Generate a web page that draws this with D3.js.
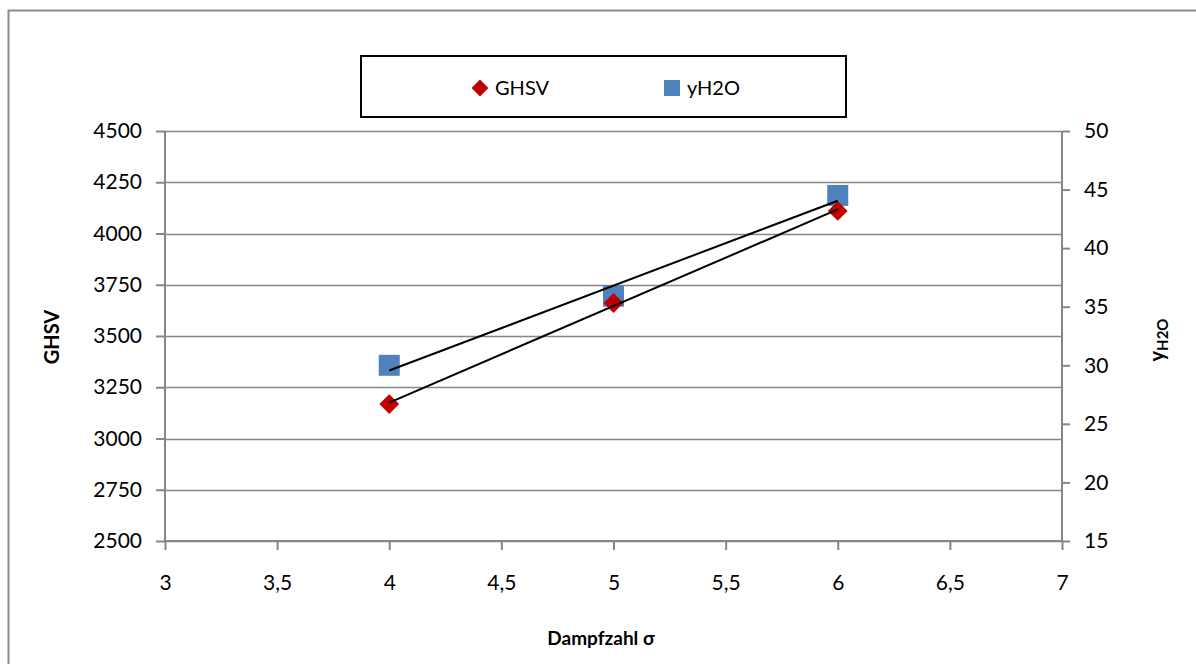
<!DOCTYPE html>
<html><head><meta charset="utf-8">
<script src="https://cdn.jsdelivr.net/npm/d3@7/dist/d3.min.js"></script>
<style>body{margin:0;background:#fff;} svg{display:block;font-family:Lato,"Open Sans",sans-serif;}</style>
</head><body>
<svg id="c" width="1196" height="664"></svg>
<script>
const xValues = [4, 5, 6];
const ghsvValues = [3168, 3661, 4110];
const yh2oValues = [30.0, 35.9, 44.5];
const xTicks = [3, 3.5, 4, 4.5, 5, 5.5, 6, 6.5, 7];
const leftTicks = [2500, 2750, 3000, 3250, 3500, 3750, 4000, 4250, 4500];
const rightTicks = [15, 20, 25, 30, 35, 40, 45, 50];
const seriesNames = ["GHSV", "yH2O"];

const svg = d3.select("#c");
const L = 165, R = 1062, T = 131, B = 541;
const x = d3.scaleLinear().domain([3, 7]).range([L, R]);
const yL = d3.scaleLinear().domain([2500, 4500]).range([B, T]);
const yR = d3.scaleLinear().domain([15, 50]).range([B, T]);
const gridCol = "#868686";

// outer border
svg.append("rect").attr("x", 8.5).attr("y", 10.5).attr("width", 1300).attr("height", 800)
  .attr("fill", "none").attr("stroke", "#8c8c8c").attr("stroke-width", 2);

// gridlines
svg.append("g").selectAll("line").data(leftTicks).join("line")
  .attr("x1", L).attr("x2", R).attr("y1", d => Math.round(yL(d)) + 0.5).attr("y2", d => Math.round(yL(d)) + 0.5)
  .attr("stroke", gridCol).attr("stroke-width", 1.5);

// axes
const fmt = d => String(d).replace(".", ",");
const axL = svg.append("g").attr("transform", `translate(${L},0)`)
  .call(d3.axisLeft(yL).tickValues(leftTicks).tickSize(9).tickPadding(14).tickFormat(d => d));
const axR = svg.append("g").attr("transform", `translate(${R},0)`)
  .call(d3.axisRight(yR).tickValues(rightTicks).tickSize(8).tickPadding(14).tickFormat(d => d));
const axB = svg.append("g").attr("transform", `translate(0,${B})`)
  .call(d3.axisBottom(x).tickValues(xTicks).tickSize(9).tickPadding(25).tickFormat(fmt));
[axL, axR, axB].forEach(a => {
  a.attr("font-size", null).attr("font-family", null);
  a.select(".domain").attr("stroke", gridCol).attr("stroke-width", 2);
  a.selectAll(".tick line").attr("stroke", gridCol).attr("stroke-width", 2);
  a.selectAll("text").style("font-size", "21px").attr("fill", "#000");
});
axB.select(".domain").attr("d", `M${L},0H${R}`);
axL.select(".domain").attr("d", `M0,${T}V${B}`);
axR.select(".domain").attr("d", `M0,${T}V${B}`);

// markers
const diamond = d3.symbol().type(d3.symbolDiamond2).size(250);
svg.append("g").selectAll("rect").data(xValues).join("rect")
  .attr("x", (d) => x(d) - 10.5).attr("y", (d, i) => yR(yh2oValues[i]) - 10.5)
  .attr("width", 21).attr("height", 21).attr("fill", "#4F81BD");
svg.append("g").selectAll("path").data(xValues).join("path")
  .attr("d", diamond).attr("transform", (d, i) => `translate(${x(d)},${yL(ghsvValues[i])})`)
  .attr("fill", "#C00000");

// linear trend lines
function fit(xs, ys) {
  const mx = d3.mean(xs), my = d3.mean(ys);
  const b = d3.sum(xs, (v, i) => (v - mx) * (ys[i] - my)) / d3.sum(xs, v => (v - mx) ** 2);
  return v => my + b * (v - mx);
}
const fG = fit(xValues, ghsvValues), fY = fit(xValues, yh2oValues);
const x0 = d3.min(xValues), x1 = d3.max(xValues);
svg.append("line").attr("x1", x(x0)).attr("x2", x(x1)).attr("y1", yL(fG(x0))).attr("y2", yL(fG(x1)))
  .attr("stroke", "#000").attr("stroke-width", 2);
svg.append("line").attr("x1", x(x0)).attr("x2", x(x1)).attr("y1", yR(fY(x0))).attr("y2", yR(fY(x1)))
  .attr("stroke", "#000").attr("stroke-width", 2);

// axis titles
svg.append("text").attr("transform", "translate(59,337) rotate(-90)").attr("text-anchor", "middle")
  .style("font-size", "20px").attr("font-weight", "bold").text("GHSV");
const rt = svg.append("text").attr("transform", "translate(1164,340) rotate(-90)").attr("text-anchor", "middle")
  .style("font-size", "20px").attr("font-weight", "bold");
rt.append("tspan").text("y");
rt.append("tspan").style("font-size", "15px").attr("dy", 4).text("H2O");
svg.append("text").attr("x", 601).attr("y", 645).attr("text-anchor", "middle")
  .style("font-size", "19px").attr("font-weight", "bold").text("Dampfzahl  σ");

// legend
svg.append("rect").attr("x", 361).attr("y", 56).attr("width", 485).attr("height", 61)
  .attr("fill", "#fff").attr("stroke", "#000").attr("stroke-width", 2);
svg.append("path").attr("d", d3.symbol().type(d3.symbolDiamond2).size(180)).attr("transform", "translate(480,88)").attr("fill", "#C00000");
svg.append("text").attr("x", 495).attr("y", 95).style("font-size", "20px").text(seriesNames[0]);
svg.append("rect").attr("x", 664).attr("y", 80).attr("width", 16).attr("height", 16).attr("fill", "#4F81BD");
svg.append("text").attr("x", 687).attr("y", 95).style("font-size", "20px").text(seriesNames[1]);
</script>
</body></html>
